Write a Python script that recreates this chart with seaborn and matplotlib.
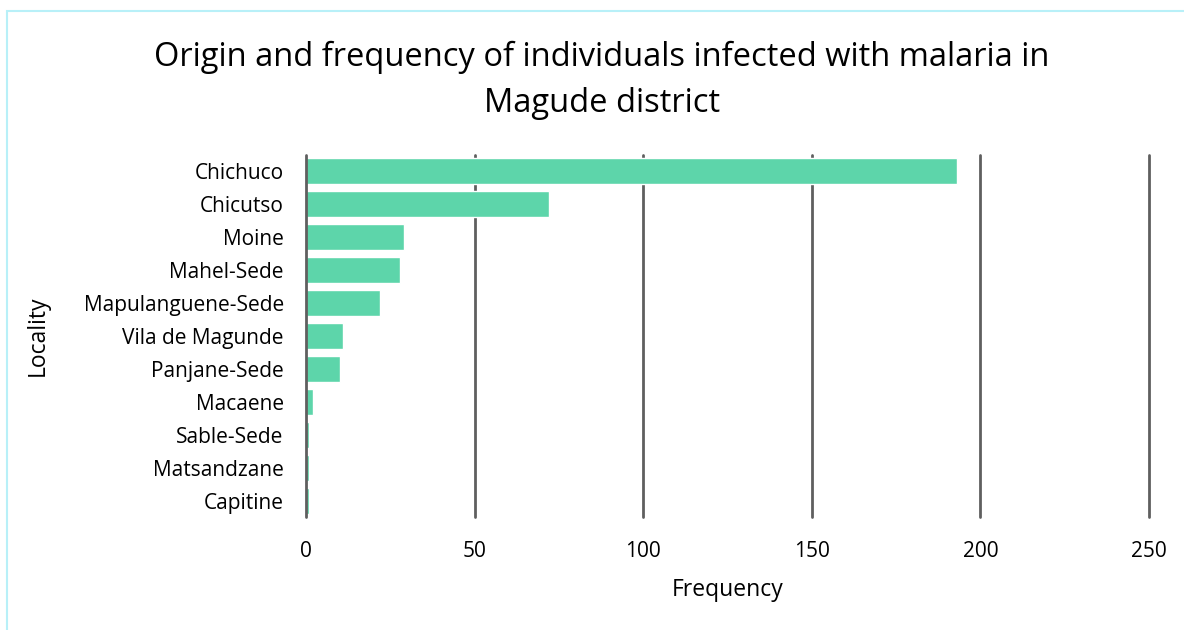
import matplotlib
matplotlib.use("Agg")
import matplotlib.pyplot as plt
import seaborn as sns
import pandas as pd
from matplotlib.patches import Rectangle

localities = ["Chichuco", "Chicutso", "Moine", "Mahel-Sede", "Mapulanguene-Sede",
              "Vila de Magunde", "Panjane-Sede", "Macaene", "Sable-Sede",
              "Matsandzane", "Capitine"]
frequency = [193, 72, 29, 28, 22, 11, 10, 2, 1, 1, 1]
x_ticks = [0, 50, 100, 150, 200, 250]

sns.set_theme(style="white")
plt.rcParams['font.family'] = ['Open Sans', 'DejaVu Sans']

df = pd.DataFrame({"Locality": localities, "Frequency": frequency})

fig = plt.figure(figsize=(11.84, 6.3), dpi=100)
ax = fig.add_axes([306/1184, 1-517/630, (1149-306)/1184, (517-155)/630])

sns.barplot(data=df, y="Locality", x="Frequency", orient="h", color="#5DD5AA",
            width=0.79, saturation=1, ax=ax, zorder=3)

ax.set_xlim(0, 250)
ax.set_ylim(10.5, -0.5)
ax.set_xticks(x_ticks)
ax.set_xticklabels([str(t) for t in x_ticks], fontsize=15, color="#000000")
ax.tick_params(axis="y", labelsize=15, colors="#000000", pad=16, length=0)
ax.tick_params(axis="x", pad=17, length=0)
for lbl in ax.get_yticklabels():
    lbl.set_color("#000000")
ax.grid(False)
for t in x_ticks:
    ax.axvline(t, color="#5f5f5f", lw=2, zorder=2 if t else 4, clip_on=False)
for s in ax.spines.values():
    s.set_visible(False)

ax.set_xlabel("Frequency", fontsize=16.5, color="#000000", labelpad=12)
ax.set_ylabel("Locality", fontsize=16.5, color="#000000", labelpad=24)

fig.text(602/1184, 1-80.5/630, "Origin and frequency of individuals infected with malaria in\nMagude district",
         ha="center", va="center", fontsize=23.5, color="#000000", linespacing=1.5)

fig.patches.append(Rectangle((7/1184, -0.1), 1.2, 1-11/630+0.1, transform=fig.transFigure,
                             fill=False, edgecolor="#b8f0f8", lw=1.5))

fig.savefig("out.png", dpi=100)
